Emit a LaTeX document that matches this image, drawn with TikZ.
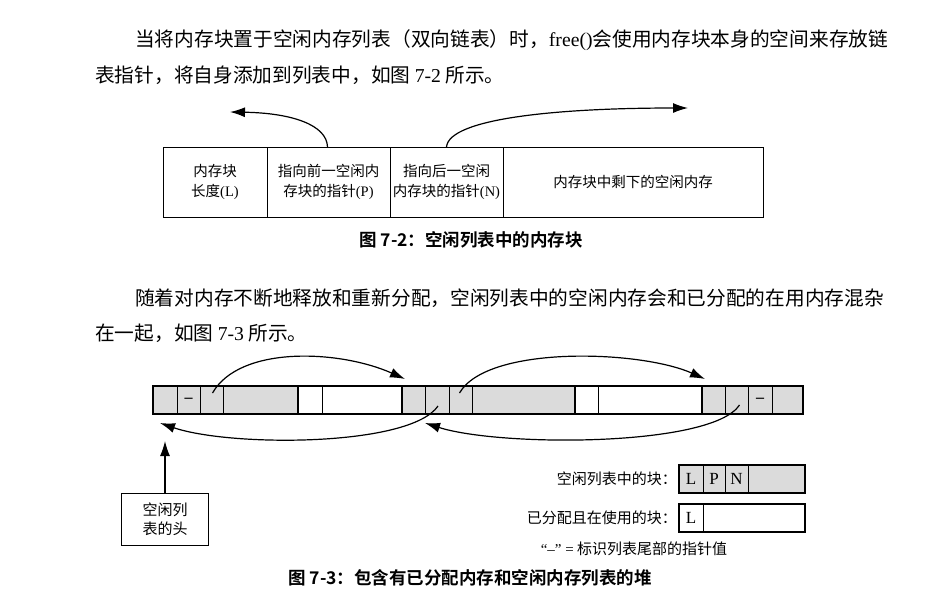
\documentclass[tikz,border=0pt]{standalone}
\usepackage{fontspec}
\usepackage{tikz}
\setmainfont{Liberation Serif}
\newfontfamily\cjk{Noto Sans CJK SC}[BoldFont={Noto Sans CJK SC Bold}]
\usetikzlibrary{arrows.meta, positioning}

\begin{document}
\begin{tikzpicture}[x=1pt, y=-1pt,
							para/.style={anchor=west, inner sep=0pt, font=\fontsize{19.7}{24}\selectfont\cjk},
							figcap/.style={inner sep=0pt, font=\fontsize{17.5}{20}\selectfont\cjk\bfseries},
							mcell/.style={draw, line width=0.8pt, minimum height=70pt, inner sep=0pt, outer sep=0pt, align=center, font=\fontsize{14.5}{20}\selectfont\cjk},
							scell/.style={draw, line width=0.5pt, minimum height=28pt, inner sep=0pt, outer sep=0pt, font=\fontsize{16}{16}\selectfont\bfseries},
							freecell/.style={scell, fill=gray!28},
							usedcell/.style={scell, fill=white},
							lbl/.style={inner sep=0pt, font=\fontsize{15}{19}\selectfont\cjk},
							ptr/.style={-{Latex[length=15pt, width=10pt]}, line width=1.2pt}
							]
							\useasboundingbox (0,0) rectangle (950,600);
							
							% Texto del párrafo
							\node[para] (p1a) at (135,40) {当将内存块置于空闲内存列表（双向链表）时，{\rmfamily free()}会使用内存块本身的空间来存放链};
							\node[para] (p1b) at (95,75) {表指针，将自身添加到列表中，如图 {\rmfamily 7-2} 所示。};
							
							% Bloque de memoria libre
							\node[mcell, minimum width=104pt, anchor=west] (len) at (163,182) {内存块\\长度{\rmfamily (L)}};
							\node[mcell, minimum width=123pt, right=0pt of len] (prv) {指向前一空闲内\\存块的指针{\rmfamily (P)}};
							\node[mcell, minimum width=113pt, right=0pt of prv] (nxt) {指向后一空闲\\内存块的指针{\rmfamily (N)}};
							\node[mcell, minimum width=260pt, right=0pt of nxt] (rest) {内存块中剩下的空闲内存};
							\coordinate (prvtip) at (230,112);
							\coordinate (nxttip) at (688,108);
							\draw[ptr] (prv.north) ++(-1,0) .. controls (327,125) and (292,113) .. (prvtip);
							\draw[ptr] (nxt.north) ++(0,0) .. controls (449,118) and (560,108) .. (nxttip);
							\node[figcap] (cap1) at (471,240) {图 7-2：空闲列表中的内存块};
							
							\node[para] (p2a) at (135,298) {随着对内存不断地释放和重新分配，空闲列表中的空闲内存会和已分配的在用内存混杂};
							\node[para] (p2b) at (95,333) {在一起，如图 {\rmfamily 7-3} 所示。};
							
							% Montículo: bloques libres y usados
							\node[freecell, minimum width=24pt, anchor=west] (f1l) at (153,400) {};
							\node[freecell, minimum width=23pt, right=0pt of f1l] (f1p) {--};
							\node[freecell, minimum width=23pt, right=0pt of f1p] (f1n) {};
							\node[freecell, minimum width=75pt, right=0pt of f1n] (f1r) {};
							\node[usedcell, minimum width=24pt, right=0pt of f1r] (u1l) {};
							\node[usedcell, minimum width=80pt, right=0pt of u1l] (u1r) {};
							\node[freecell, minimum width=23pt, right=0pt of u1r] (f2l) {};
							\node[freecell, minimum width=24pt, right=0pt of f2l] (f2p) {};
							\node[freecell, minimum width=23pt, right=0pt of f2p] (f2n) {};
							\node[freecell, minimum width=103pt, right=0pt of f2n] (f2r) {};
							\node[usedcell, minimum width=23pt, right=0pt of f2r] (u2l) {};
							\node[usedcell, minimum width=104pt, right=0pt of u2l] (u2r) {};
							\node[freecell, minimum width=23pt, right=0pt of u2r] (f3l) {};
							\node[freecell, minimum width=23pt, right=0pt of f3l] (f3p) {};
							\node[freecell, minimum width=24pt, right=0pt of f3p] (f3n) {--};
							\node[freecell, minimum width=31pt, right=0pt of f3n] (f3r) {};
							
							% Bordes gruesos de los bloques
							\draw[line width=1.2pt] (f1l.north west) rectangle (f3r.south east);
							\draw[line width=1.2pt] (u1l.north west) -- (u1l.south west);
							\draw[line width=1.2pt] (f2l.north west) -- (f2l.south west);
							\draw[line width=1.2pt] (u2l.north west) -- (u2l.south west);
							\draw[line width=1.2pt] (f3l.north west) -- (f3l.south west);
							
							% Punteros siguiente / anterior
							\coordinate (f2in) at (405,379);
							\coordinate (f3in) at (705,379);
							\coordinate (f1back) at (160,423);
							\coordinate (f2back) at (425,423);
							\draw[ptr] (f1n.center) ++(1,-7) .. controls (240,345) and (340,350) .. (f2in);
							\draw[ptr] (f2n.center) ++(-1,-7) .. controls (487,345) and (640,350) .. (f3in);
							\draw[ptr] (f2p.center) ++(1,6) .. controls (410,447) and (230,447) .. (f1back);
							\draw[ptr] (f3p.center) ++(3,5) .. controls (712,447) and (500,447) .. (f2back);
							
							% Cabeza de la lista
							\node[draw, line width=0.8pt, minimum width=87pt, minimum height=52pt, align=center, font=\fontsize{15}{19}\selectfont\cjk] (head) at (165,519) {空闲列\\表的头};
							\coordinate (headtip) at (165,441);
							\draw[ptr] (head.north) -- (headtip);
							
							% Leyenda
							\node[freecell, minimum width=24pt, anchor=west, font=\fontsize{17}{19}\selectfont] (kl) at (679,479) {L};
							\node[freecell, minimum width=22pt, right=0pt of kl, font=\fontsize{17}{19}\selectfont] (kp) {P};
							\node[freecell, minimum width=23pt, right=0pt of kp, font=\fontsize{17}{19}\selectfont] (kn) {N};
							\node[freecell, minimum width=57pt, right=0pt of kn] (kr) {};
							\draw[line width=1.1pt] (kl.north west) rectangle (kr.south east);
							\node[lbl, left=2pt of kl] (kfree) {空闲列表中的块：};
							\node[usedcell, minimum width=24pt, anchor=west, font=\fontsize{17}{19}\selectfont] (ul) at (679,518) {L};
							\node[usedcell, minimum width=102pt, right=0pt of ul] (ur) {};
							\draw[line width=1.1pt] (ul.north west) rectangle (ur.south east);
							\node[lbl, left=2pt of ul] (kused) {已分配且在使用的块：};
							\node[lbl] (knote) at (634,549) {{\rmfamily “--” =} 标识列表尾部的指针值};
							
							\node[figcap] (cap2) at (470,578) {图 7-3：包含有已分配内存和空闲内存列表的堆};
						\end{tikzpicture}
\end{document}
